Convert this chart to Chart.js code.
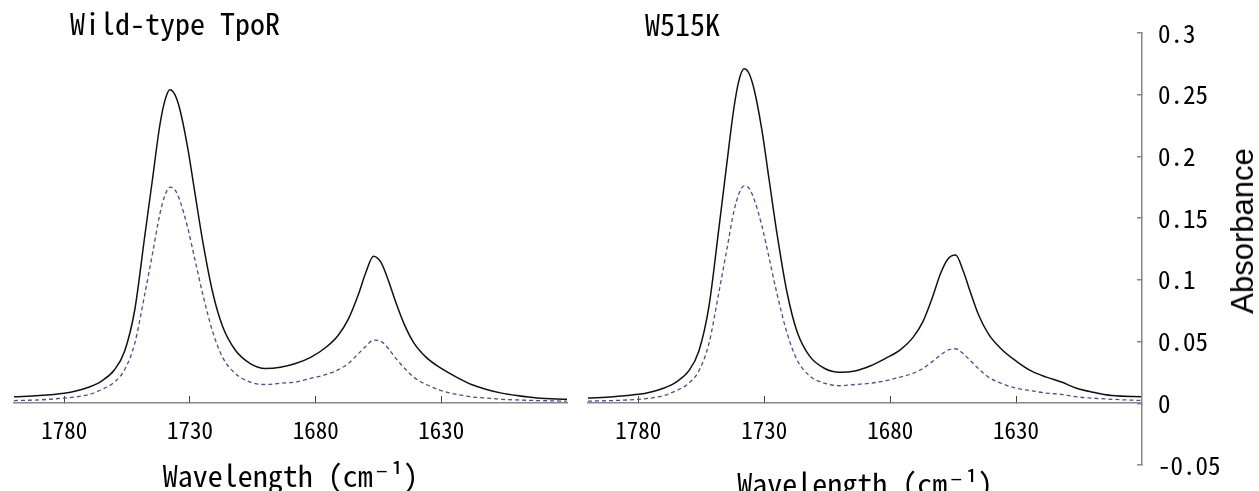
<!DOCTYPE html>
<html>
<head>
<meta charset="utf-8">
<script src="https://cdn.jsdelivr.net/npm/chart.js@4.4.1/dist/chart.umd.min.js"></script>
<style>
  html, body { margin: 0; padding: 0; background: #fff; }
  body { width: 1259px; height: 491px; overflow: hidden; position: relative; }
  canvas { position: absolute; top: 0; }
  .label { position: absolute; color: #000; white-space: nowrap; }
  .mono { font-family: 'Noto Sans Mono CJK JP', 'DejaVu Sans Mono', monospace; font-size: 30px; line-height: 36px; }
  #yTitle { font-family: 'Liberation Sans', 'Noto Sans CJK JP', sans-serif; font-size: 31px; line-height: 36px;
            left: 1243px; top: 231px; transform: translate(-50%, -50%) rotate(-90deg); }
</style>
</head>
<body>
<canvas id="wildType" width="580" height="491" style="left:0"></canvas>
<canvas id="w515k" width="562" height="491" style="left:580px"></canvas>
<!-- the axis labels reserve 36px above and below the axis, hence the taller, shifted canvas -->
<canvas id="absAxis" width="159" height="504" style="left:1100px; top:-3px"></canvas>
<div class="label mono" style="left:70px; top:4px">Wild-type TpoR</div>
<div class="label mono" style="left:645px; top:5px">W515K</div>
<div class="label" id="yTitle">Absorbance</div>
<script>
// wavenumber (cm-1) of every sample, shared by all four spectra
const wavenumbers = [1800, 1790, 1780, 1775, 1770, 1765, 1760, 1756, 1752, 1748, 1745, 1742, 1740, 1738,
  1736, 1734, 1731, 1728, 1725, 1721, 1717, 1712, 1706, 1700, 1694, 1688, 1682, 1676, 1671, 1667,
  1663, 1660, 1657, 1654, 1651, 1648, 1645, 1641, 1636, 1630, 1624, 1618, 1612, 1606, 1600, 1592, 1580]

const wildTypeSolid = [0.005, 0.006, 0.008, 0.010, 0.013, 0.018, 0.027, 0.042, 0.075, 0.135, 0.180, 0.225, 0.245, 0.254,
  0.250, 0.238, 0.208, 0.170, 0.132, 0.090, 0.062, 0.043, 0.032, 0.028, 0.029, 0.032, 0.037, 0.045, 0.055, 0.068,
  0.088, 0.106, 0.119, 0.114, 0.099, 0.081, 0.065, 0.049, 0.037, 0.028, 0.021, 0.015, 0.011, 0.008, 0.006, 0.004, 0.003]

const wildTypeDashed = [0.002, 0.0025, 0.004, 0.005, 0.007, 0.011, 0.017, 0.027, 0.048, 0.088, 0.120, 0.153, 0.168, 0.175,
  0.173, 0.164, 0.143, 0.116, 0.089, 0.058, 0.037, 0.024, 0.017, 0.015, 0.016, 0.017, 0.020, 0.023, 0.027, 0.032,
  0.040, 0.046, 0.051, 0.050, 0.044, 0.036, 0.029, 0.021, 0.015, 0.010, 0.007, 0.005, 0.004, 0.003, 0.0025, 0.002, 0.0015]

const w515kSolid = [0.004, 0.005, 0.007, 0.009, 0.012, 0.017, 0.026, 0.042, 0.078, 0.142, 0.192, 0.240, 0.262, 0.271,
  0.267, 0.254, 0.222, 0.180, 0.138, 0.090, 0.058, 0.038, 0.028, 0.025, 0.026, 0.030, 0.036, 0.043, 0.053, 0.066,
  0.087, 0.105, 0.117, 0.120, 0.107, 0.089, 0.072, 0.056, 0.044, 0.034, 0.026, 0.021, 0.017, 0.012, 0.009, 0.006, 0.005]

const w515kDashed = [0.0015, 0.002, 0.003, 0.004, 0.006, 0.010, 0.016, 0.026, 0.048, 0.090, 0.123, 0.156, 0.170, 0.176,
  0.174, 0.165, 0.144, 0.117, 0.089, 0.057, 0.035, 0.022, 0.016, 0.014, 0.015, 0.016, 0.018, 0.021, 0.024, 0.028,
  0.034, 0.039, 0.043, 0.044, 0.040, 0.034, 0.028, 0.021, 0.016, 0.012, 0.010, 0.008, 0.007, 0.005, 0.004, 0.003, 0.002]

const xTicks = [1780, 1730, 1680, 1630]
const yTicks = [-0.05, 0, 0.05, 0.1, 0.15, 0.2, 0.25, 0.3]

const monoFont = "'Noto Sans Mono CJK JP', 'DejaVu Sans Mono', monospace"

function toPoints(values) {
  return wavenumbers.map((wn, i) => ({ x: wn, y: values[i] }))
}

/**
 * Draws one spectrum panel (solid + dashed trace) on a canvas.
 */
function spectrumChart(canvasId, solid, dashed, padding, titleDrop) {
  return new Chart(document.getElementById(canvasId).getContext('2d'), {
    type: 'line',
    data: {
      datasets: [
        { data: toPoints(dashed), borderColor: '#4b4b9e', borderWidth: 1.3, borderDash: [4, 3] },
        { data: toPoints(solid), borderColor: '#111111', borderWidth: 1.5 }
      ]
    },
    options: {
      responsive: false,
      animation: false,
      devicePixelRatio: 1,
      layout: { padding: padding },
      elements: { point: { radius: 0 }, line: { cubicInterpolationMode: 'monotone' } },
      plugins: { legend: { display: false }, tooltip: { enabled: false } },
      scales: {
        x: {
          type: 'linear',
          reverse: true,
          min: 1580,
          max: 1800,
          afterBuildTicks: (scale) => { scale.ticks = xTicks.map(v => ({ value: v })) },
          afterFit: (scale) => { scale.height = 88 },
          grid: { drawOnChartArea: false, tickLength: -7, color: '#444', lineWidth: 1 },
          border: { color: '#888', width: 1.5 },
          ticks: {
            padding: 20, color: '#000', maxRotation: 0, autoSkip: false,
            font: { family: monoFont, size: 23 },
            callback: (v) => String(v)
          },
          title: {
            display: true,
            text: 'Wavelength (cm⁻¹)',
            color: '#000',
            font: { family: monoFont, size: 30 },
            padding: { top: 0, bottom: -3 - titleDrop }
          }
        },
        y: { display: false, min: 0, max: 0.3 }
      }
    }
  })
}

spectrumChart('wildType', wildTypeSolid, wildTypeDashed, { left: 14, right: 13, top: 33, bottom: 0 }, 0)
spectrumChart('w515k', w515kSolid, w515kDashed, { left: 8, right: 0, top: 33, bottom: 0 }, 8)

// shared absorbance axis on the right, running from -0.05 up to 0.3
new Chart(document.getElementById('absAxis').getContext('2d'), {
  type: 'line',
  data: { datasets: [] },
  options: {
    responsive: false,
    animation: false,
    devicePixelRatio: 1,
    layout: { padding: 0 },
    plugins: { legend: { display: false }, tooltip: { enabled: false } },
    scales: {
      x: { type: 'linear', display: false },
      y: {
        position: 'right',
        min: -0.05,
        max: 0.3,
        afterBuildTicks: (scale) => { scale.ticks = yTicks.map(v => ({ value: v })) },
        afterFit: (scale) => { scale.width = 117 },
        grid: { drawOnChartArea: false, tickLength: -5, color: '#888', lineWidth: 1.5 },
        border: { color: '#888', width: 1.5 },
        ticks: { padding: 21, color: '#000', font: { family: monoFont, size: 25 }, callback: (v) => String(v) }
      }
    }
  }
})
</script>
</body>
</html>
